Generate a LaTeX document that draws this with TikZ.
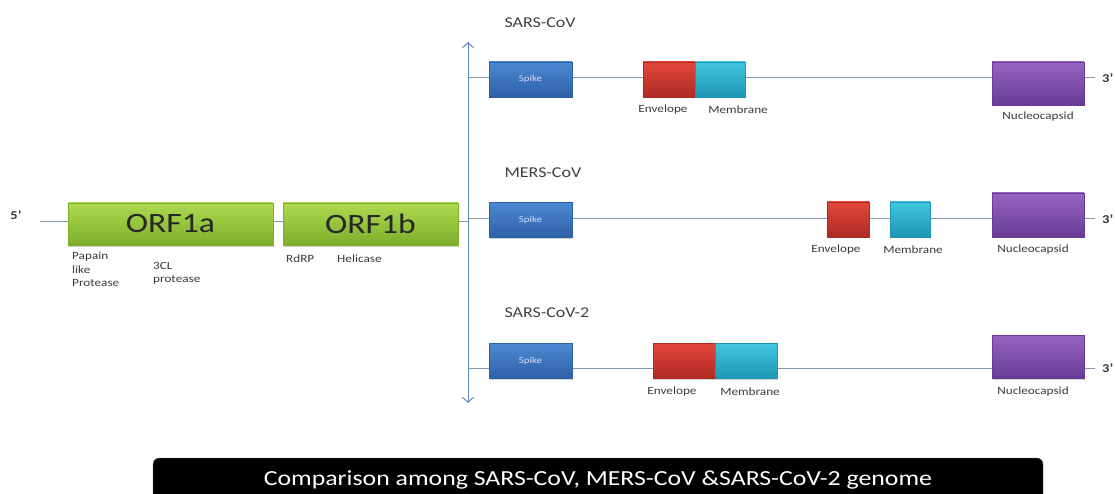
\documentclass[tikz,border=0pt]{standalone}
\usepackage{fontspec}
\setmainfont{Carlito}[FakeStretch=1.2]
\usetikzlibrary{arrows.meta, positioning, shadows}

\definecolor{linegray}{HTML}{7E97B5}
\definecolor{axisblue}{HTML}{5B86BE}
\definecolor{lblgray}{HTML}{3A3A3A}
\definecolor{orftop}{HTML}{ADDA50}
\definecolor{orfbot}{HTML}{7DAD2B}
\definecolor{spiketop}{HTML}{4C88D2}
\definecolor{spikebot}{HTML}{2D61A6}
\definecolor{envtop}{HTML}{E2473C}
\definecolor{envbot}{HTML}{AE2A22}
\definecolor{memtop}{HTML}{40C6DF}
\definecolor{membot}{HTML}{1E95B5}
\definecolor{nctop}{HTML}{9764C2}
\definecolor{ncbot}{HTML}{683C96}

\begin{document}
\begin{tikzpicture}[
  x=1pt, y=-1pt,
  font=\fontsize{11}{13}\selectfont,
  gene/.style n args={2}{draw=#2, top color=#1, bottom color=#2, inner sep=0pt,
    drop shadow={shadow xshift=1.2pt, shadow yshift=-1.5pt, opacity=0.35}},
  orf/.style={gene={orftop}{orfbot}, minimum height=42pt, text=black!85,
    font=\fontsize{28}{30}\selectfont},
  spike/.style={gene={spiketop}{spikebot}, minimum width=83pt, minimum height=35pt,
    text=white!85!blue, font=\fontsize{9}{10}\selectfont},
  env/.style={gene={envtop}{envbot}, minimum height=35pt},
  mem/.style={gene={memtop}{membot}, minimum height=35pt},
  ncap/.style={gene={nctop}{ncbot}, minimum width=92pt, minimum height=43pt},
  lbl/.style={text=lblgray, inner sep=1pt},
  title/.style={text=black!75, font=\fontsize{15}{17}\selectfont, anchor=west},
  endlbl/.style={font=\fontsize{12}{12}\selectfont\bfseries, text=black!80},
  genome/.style={draw=linegray, line width=1pt},
  axis/.style={draw=axisblue, line width=1pt, <->, >={Straight Barb[length=5pt, width=11pt]}},
]
\useasboundingbox (0,0) rectangle (1115,494);

% Backbone and axis
\coordinate (g0) at (40,222);
\coordinate (axtop) at (468,42);
\coordinate (axmid) at (468,222);
\coordinate (axbot) at (468,403);
\node[endlbl] (five) at (16,215) {5'};
\draw[genome] (g0) -- (axmid);
\draw[axis] (axbot) -- (axtop);

% Row lines
\coordinate (r1s) at (468,78);   \coordinate (r1e) at (1095,78);
\coordinate (r2s) at (468,219);  \coordinate (r2e) at (1095,219);
\coordinate (r3s) at (468,368);  \coordinate (r3e) at (1095,368);
\draw[genome] (r1s) -- (r1e);
\draw[genome] (r2s) -- (r2e);
\draw[genome] (r3s) -- (r3e);
\foreach \r in {1,2,3}
  \node[endlbl, anchor=west, inner sep=1pt] (three\r) at ([xshift=6pt]r\r e) {3'};

% ORF1ab
\node[orf, minimum width=205pt] (orf1a) at (170.5,224) {ORF1a};
\node[orf, minimum width=175pt] (orf1b) at (370.5,224) {ORF1b};
\node[lbl, anchor=north west, align=left, font=\fontsize{11}{13.5}\selectfont] (plp) at (71,251) {Papain\\like\\Protease};
\node[lbl, anchor=north west, align=left, font=\fontsize{11}{13.5}\selectfont] (tcl) at (152,261) {3CL\\protease};
\node[lbl, anchor=west] (rdrp) at (285,259) {RdRP};
\node[lbl, anchor=west] (heli) at (336,259) {Helicase};

% SARS-CoV
\node[title] (sars) at (501,23) {SARS-CoV};
\node[spike] (s1) at (530.5,79.5) {Spike};
\node[env, minimum width=52pt] (e1) at (669,79.5) {};
\node[mem, minimum width=50pt] (m1) at (720,79.5) {};
\node[ncap] (n1) at (1038,83.5) {};
\node[lbl] at (663,110) {Envelope};
\node[lbl] at (738,110) {Membrane};
\node[lbl, below=5pt of n1] {Nucleocapsid};

% MERS-CoV
\node[title] (mers) at (501,173) {MERS-CoV};
\node[spike] (s2) at (530.5,220) {Spike};
\node[env, minimum width=42pt] (e2) at (848,219.5) {};
\node[mem, minimum width=40pt] (m2) at (910,219.5) {};
\node[ncap, minimum height=44pt] (n2) at (1038,215) {};
\node[lbl] at (836,250) {Envelope};
\node[lbl] at (913,250) {Membrane};
\node[lbl] at (1033,250) {Nucleocapsid};

% SARS-CoV-2
\node[title] (sars2) at (501,313) {SARS-CoV-2};
\node[spike] (s3) at (530.5,361) {Spike};
\node[env, minimum width=62pt] (e3) at (684,361) {};
\node[mem, minimum width=62pt] (m3) at (746,361) {};
\node[ncap] (n3) at (1038,356.5) {};
\node[lbl] at (672,392) {Envelope};
\node[lbl] at (750,392) {Membrane};
\node[lbl] at (1033,392) {Nucleocapsid};

% Caption bar
\node[fill=black, draw=black!55, rounded corners=6pt, minimum width=890pt, minimum height=44pt,
  text=white!82, font=\fontsize{21.5}{23}\selectfont] (cap) at (598,480)
  {Comparison among SARS-CoV, MERS-CoV \&SARS-CoV-2 genome};

\end{tikzpicture}
\end{document}
